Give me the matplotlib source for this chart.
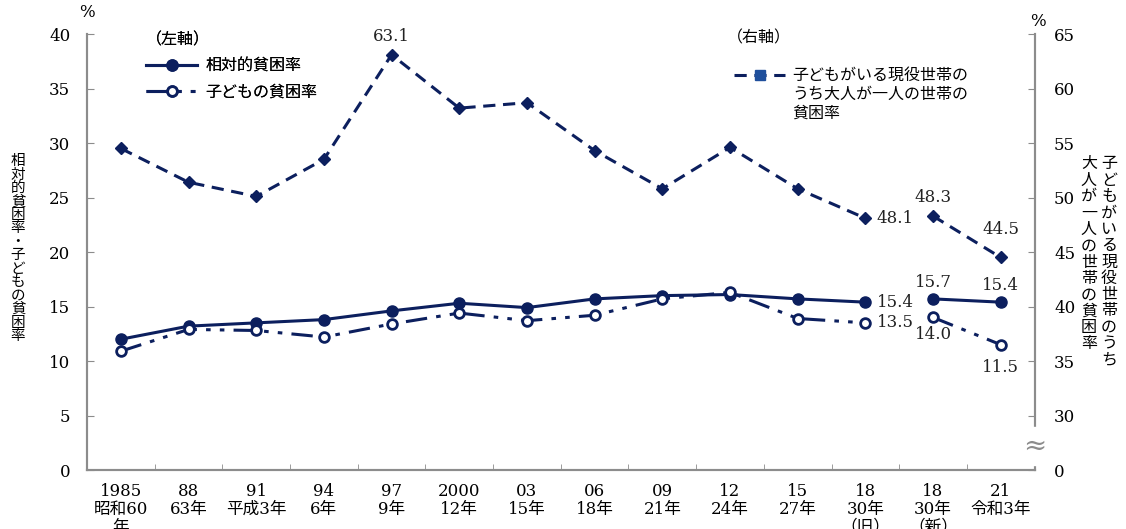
import matplotlib.pyplot as plt
from matplotlib.lines import Line2D
from matplotlib.ticker import FixedLocator
import numpy as np

plt.rcParams['font.family'] = ['DejaVu Serif', 'Noto Sans CJK JP']

# data
years = ['1985\n昭和60\n年', '88\n63年', '91\n平成3年', '94\n6年', '97\n9年',
         '2000\n12年', '03\n15年', '06\n18年', '09\n21年', '12\n24年',
         '15\n27年', '18\n30年\n（旧）', '18\n30年\n（新）', '21\n令和3年']
relative = [12.0, 13.2, 13.5, 13.8, 14.6, 15.3, 14.9, 15.7, 16.0, 16.1, 15.7, 15.4, 15.7, 15.4]
child = [10.9, 12.9, 12.8, 12.2, 13.4, 14.4, 13.7, 14.2, 15.7, 16.3, 13.9, 13.5, 14.0, 11.5]
single = [54.5, 51.4, 50.1, 53.5, 63.1, 58.2, 58.7, 54.3, 50.8, 54.6, 50.8, 48.1, 48.3, 44.5]
old_end = 12  # series break between 18(旧) and 18(新)

navy = '#0c1f5e'
gray = '#8c8c8c'
child_ls = (0, (7, 3, 1.5, 3, 1.5, 3))
single_ls = (0, (4, 2.5))

fig = plt.figure(figsize=(11.26, 5.29), dpi=100)
ax = fig.add_axes([0.0773, 0.1115, 0.8415, 0.8242])
ax2 = ax.twinx()

x = np.arange(len(years))
for sl in (slice(0, old_end), slice(old_end, None)):
    ax.plot(x[sl], relative[sl], color=navy, lw=2.2, marker='o', ms=8, zorder=3)
    ax.plot(x[sl], child[sl], color=navy, lw=2.2, ls=child_ls, marker='o', ms=7,
            mfc='white', mew=2, zorder=3)
    ax2.plot(x[sl], single[sl], color=navy, lw=2.2, ls=single_ls, marker='D', ms=6.5, zorder=3)

ax.set_xlim(-0.5, len(years) - 0.5)
ax.set_ylim(0, 40)
ax.set_yticks(np.arange(0, 41, 5))
ax2.set_ylim(25, 65)
ax2.set_yticks(np.arange(25, 66, 5))
ax2.set_yticklabels(['0'] + [str(v) for v in range(30, 66, 5)])

ax.set_xticks(x)
ax.set_xticklabels(years, linespacing=1.08)
ax.xaxis.set_minor_locator(FixedLocator(np.arange(0.5, len(years) - 1, 1)))
ax.tick_params(axis='x', which='major', length=0, pad=9, labelsize=12)
ax.tick_params(axis='x', which='minor', direction='in', length=4, color=gray)
ax.tick_params(axis='y', direction='in', length=5, color=gray, pad=12, labelsize=12)
ax2.tick_params(axis='y', direction='in', length=5, color=gray, pad=14, labelsize=12)

for a in (ax, ax2):
    a.spines['top'].set_visible(False)
    for s in ('left', 'right', 'bottom'):
        a.spines[s].set_color(gray)
        a.spines[s].set_linewidth(1.5)

# axis break mark on the right axis
ax2.text(len(years) - 0.5, 27.2, '≈', ha='center', va='center', fontsize=20,
         color=gray, backgroundcolor='white', zorder=5, clip_on=False)

# percent signs
ax.text(-0.5, 41.2, '%', ha='center', va='bottom', fontsize=12)
ax2.text(len(years) - 0.45, 65.4, '%', ha='center', va='bottom', fontsize=12)

# axis titles (vertical writing)
left_title = '相対的貧困率・子どもの貧困率'
fig.text(0.016, 0.53, '\n'.join(left_title), ha='center', va='center',
         fontsize=10.5, linespacing=0.95, family='Noto Sans CJK JP')
right_col1 = '子どもがいる現役世帯のうち'
right_col2 = '大人が一人の世帯の貧困率'
fig.text(0.985, 0.505, '\n'.join(right_col1), ha='center', va='center',
         fontsize=11.5, linespacing=0.95, family='Noto Sans CJK JP')
fig.text(0.967, 0.52, '\n'.join(right_col2), ha='center', va='center',
         fontsize=11.5, linespacing=0.95, family='Noto Sans CJK JP')

# data labels
lab = dict(fontsize=12, color='#222222')
ax2.annotate(f'{single[4]:.1f}', (x[4], single[4]), xytext=(0, 7), textcoords='offset points', ha='center', va='bottom', **lab)
ax2.annotate(f'{single[11]:.1f}', (x[11], single[11]), xytext=(8, 0), textcoords='offset points', ha='left', va='center', **lab)
ax2.annotate(f'{single[12]:.1f}', (x[12], single[12]), xytext=(0, 7), textcoords='offset points', ha='center', va='bottom', **lab)
ax2.annotate(f'{single[13]:.1f}', (x[13], single[13]), xytext=(0, 14), textcoords='offset points', ha='center', va='bottom', **lab)
ax.annotate(f'{relative[11]:.1f}', (x[11], relative[11]), xytext=(8, 0), textcoords='offset points', ha='left', va='center', **lab)
ax.annotate(f'{relative[12]:.1f}', (x[12], relative[12]), xytext=(0, 6), textcoords='offset points', ha='center', va='bottom', **lab)
ax.annotate(f'{relative[13]:.1f}', (x[13], relative[13]), xytext=(0, 6), textcoords='offset points', ha='center', va='bottom', **lab)
ax.annotate(f'{child[11]:.1f}', (x[11], child[11]), xytext=(8, 0), textcoords='offset points', ha='left', va='center', **lab)
ax.annotate(f'{child[12]:.1f}', (x[12], child[12]), xytext=(0, -6), textcoords='offset points', ha='center', va='top', **lab)
ax.annotate(f'{child[13]:.1f}', (x[13], child[13]), xytext=(0, -10), textcoords='offset points', ha='center', va='top', **lab)

# legends
jp = {'family': 'Noto Sans CJK JP', 'size': 11.5}
h_left = [Line2D([], [], color=navy, lw=2.2, marker='o', ms=8),
          Line2D([], [], color=navy, lw=2.2, ls=child_ls, marker='o', ms=7, mfc='white', mew=2)]
leg1 = ax.legend(h_left, ['相対的貧困率', '子どもの貧困率'], title='（左軸）', loc='upper left',
                 bbox_to_anchor=(0.047, 1.038), frameon=False, alignment='left',
                 handlelength=3.2, handletextpad=0.5, labelspacing=0.55,
                 prop=jp, title_fontproperties=jp)
ax.add_artist(leg1)

ax2.text(0.675, 0.99, '（右軸）', transform=ax2.transAxes, ha='left', va='center', **jp)
right_lines = ['子どもがいる現役世帯の', 'うち大人が一人の世帯の', '貧困率']
h_right = [Line2D([], [], color=navy, lw=2.2, ls=single_ls, marker='s', ms=7,
                  mfc='#1f4f9c', mec='#1f4f9c'),
           Line2D([], [], alpha=0), Line2D([], [], alpha=0)]
leg2 = ax2.legend(h_right, right_lines, loc='upper left', bbox_to_anchor=(0.668, 0.957),
                  frameon=False, handlelength=3.2, handletextpad=0.4, labelspacing=0.1,
                  prop=jp)

fig.savefig('out.png', dpi=100)
